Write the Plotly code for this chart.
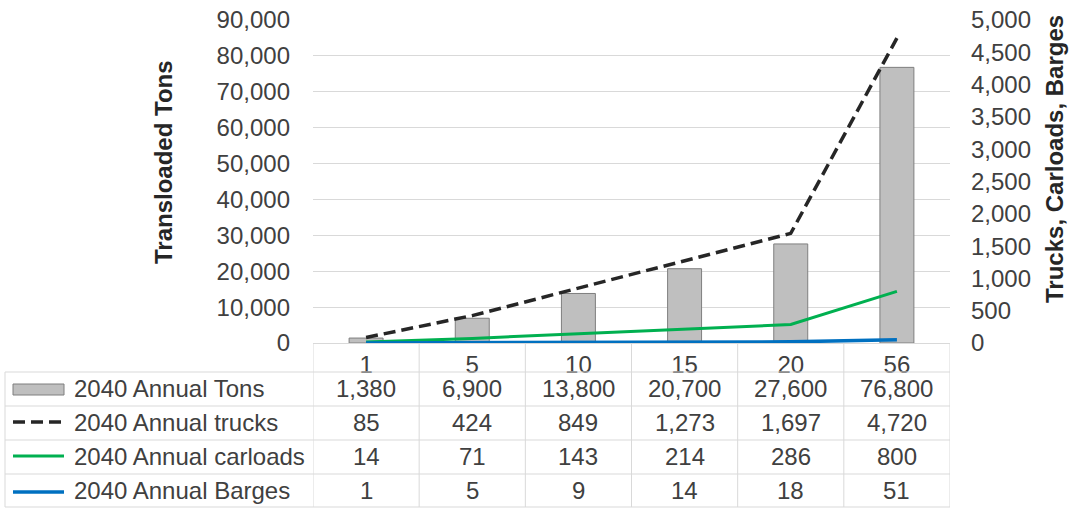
import plotly.graph_objects as go

categories = ["1", "5", "10", "15", "20", "56"]
annual_tons = [1380, 6900, 13800, 20700, 27600, 76800]
annual_trucks = [85, 424, 849, 1273, 1697, 4720]
annual_carloads = [14, 71, 143, 214, 286, 800]
annual_barges = [1, 5, 9, 14, 18, 51]
series_names = ["2040 Annual Tons", "2040 Annual trucks", "2040 Annual carloads", "2040 Annual Barges"]
left_title = "Transloaded Tons"
right_title = "Trucks, Carloads, Barges"

W, H = 1069, 508
PL, PR, PT, PB = 313, 950, 20, 343
FONT = "Liberation Sans, Arial, sans-serif"
FS = 24
TXT = "#404040"
GRID = "#D9D9D9"


def yp(py):
    return (PB - py) / (PB - PT)


def xp(px):
    return (px - PL) / (PR - PL)


fig = go.Figure()
fig.add_trace(go.Bar(x=categories, y=annual_tons, name=series_names[0], width=0.32,
                     marker=dict(color="#BFBFBF", line=dict(color="#7F7F7F", width=1)),
                     yaxis="y"))
fig.add_trace(go.Scatter(x=categories, y=annual_trucks, name=series_names[1], mode="lines",
                         line=dict(color="#262626", width=3.5, dash="12px,6px"), yaxis="y2"))
fig.add_trace(go.Scatter(x=categories, y=annual_carloads, name=series_names[2], mode="lines",
                         line=dict(color="#00B050", width=3), yaxis="y2"))
fig.add_trace(go.Scatter(x=categories, y=annual_barges, name=series_names[3], mode="lines",
                         line=dict(color="#0070C0", width=3.5), yaxis="y2"))

shapes = []
annotations = []

# table horizontal lines
row_lines = [372, 406, 440, 474, 507]
for ry in row_lines:
    shapes.append(dict(type="line", xref="paper", yref="paper", x0=xp(5), x1=1,
                       y0=yp(ry), y1=yp(ry), line=dict(color=GRID, width=1)))
# left border of legend column
shapes.append(dict(type="line", xref="paper", yref="paper", x0=xp(5), x1=xp(5),
                   y0=yp(372), y1=yp(507), line=dict(color=GRID, width=1)))
# vertical column lines (category boundaries)
for i in range(len(categories) + 1):
    shapes.append(dict(type="line", xref="x", yref="paper", x0=i - 0.5, x1=i - 0.5,
                       y0=yp(PB), y1=yp(507), line=dict(color=GRID, width=1)))

row_centers = [388, 422, 456, 490]
table_values = [annual_tons, annual_trucks, annual_carloads, annual_barges]
for r, (name, vals) in enumerate(zip(series_names, table_values)):
    cy = row_centers[r]
    annotations.append(dict(xref="paper", yref="paper", x=xp(72), y=yp(cy), text=name,
                            showarrow=False, xanchor="left", yanchor="middle",
                            font=dict(family=FONT, size=FS, color=TXT)))
    for ci, v in enumerate(vals):
        annotations.append(dict(xref="x", yref="paper", x=ci, y=yp(cy), text=f"{v:,}",
                                showarrow=False, xanchor="center", yanchor="middle",
                                font=dict(family=FONT, size=FS, color=TXT)))

# legend keys
kx0, kx1 = xp(13), xp(64)
shapes.append(dict(type="rect", xref="paper", yref="paper", x0=kx0, x1=kx1,
                   y0=yp(395), y1=yp(384), fillcolor="#BFBFBF",
                   line=dict(color="#7F7F7F", width=1)))
shapes.append(dict(type="line", xref="paper", yref="paper", x0=kx0, x1=kx1,
                   y0=yp(422), y1=yp(422), line=dict(color="#262626", width=3.5, dash="12px,6px")))
shapes.append(dict(type="line", xref="paper", yref="paper", x0=kx0, x1=kx1,
                   y0=yp(456), y1=yp(456), line=dict(color="#00B050", width=3)))
shapes.append(dict(type="line", xref="paper", yref="paper", x0=kx0, x1=kx1,
                   y0=yp(492), y1=yp(492), line=dict(color="#0070C0", width=3.5)))

# axis titles
annotations.append(dict(xref="paper", yref="paper", x=xp(163), y=yp(162), text=f"<b>{left_title}</b>",
                        showarrow=False, textangle=-90, xanchor="center", yanchor="middle",
                        font=dict(family=FONT, size=FS, color="#262626")))
annotations.append(dict(xref="paper", yref="paper", x=xp(1054), y=yp(159), text=f"<b>{right_title}</b>",
                        showarrow=False, textangle=-90, xanchor="center", yanchor="middle",
                        font=dict(family=FONT, size=FS, color="#262626")))

fig.update_layout(
    width=W, height=H,
    margin=dict(l=PL, r=W - PR, t=PT, b=H - PB, pad=0, autoexpand=False),
    paper_bgcolor="white", plot_bgcolor="white",
    showlegend=False,
    font=dict(family=FONT, size=FS, color=TXT),
    xaxis=dict(type="category", range=[-0.5, 5.5], showgrid=False, showline=True,
               linecolor=GRID, linewidth=1, ticks="", tickfont=dict(size=FS, color=TXT),
               ticklabelstandoff=0, zeroline=False, automargin=False),
    yaxis=dict(range=[0, 90000], dtick=10000, tickformat=",", showgrid=True, gridcolor=GRID,
               gridwidth=1, zeroline=False, showline=False, ticks="", automargin=False,
               ticklabelstandoff=22, tickfont=dict(size=FS, color=TXT)),
    yaxis2=dict(range=[0, 5000], dtick=500, tickformat=",", overlaying="y", side="right",
                showgrid=False, zeroline=False, showline=False, ticks="", automargin=False,
                ticklabelstandoff=20, tickfont=dict(size=FS, color=TXT)),
    shapes=shapes,
    annotations=annotations,
)

fig.write_html("out.html", config={"displayModeBar": False},
               post_script="document.body.style.margin='0';")
